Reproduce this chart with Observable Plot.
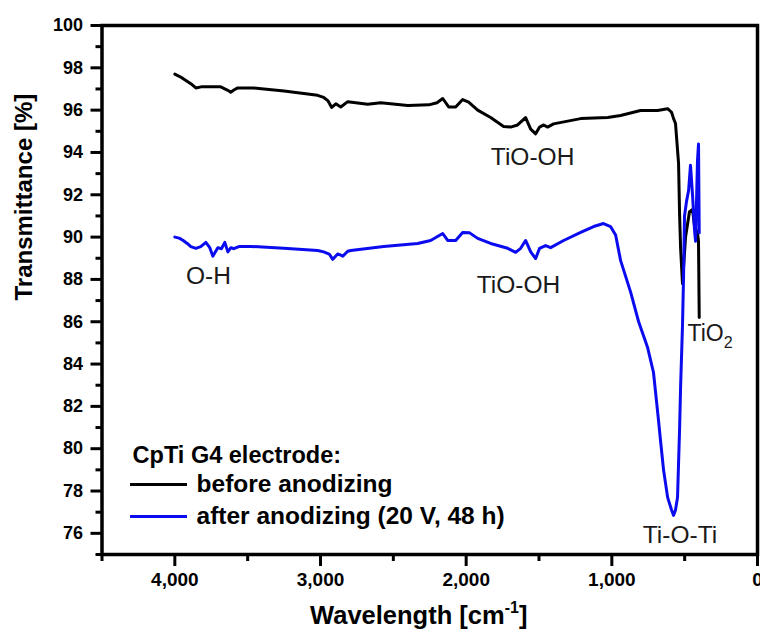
<!DOCTYPE html>
<html>
<head>
<meta charset="utf-8">
<script src="https://cdn.jsdelivr.net/npm/d3@7"></script>
<script src="https://cdn.jsdelivr.net/npm/@observablehq/plot@0.6"></script>
<style>
  html, body { margin: 0; padding: 0; background: #fff; }
  #chart { width: 760px; height: 637px; overflow: hidden; }
</style>
</head>
<body>
<div id="chart"></div>
<script>
// ---------------- data ----------------
const seriesNames = ["before anodizing", "after anodizing (20 V, 48 h)"];
const legendTitle = "CpTi G4 electrode:";

const wnBefore = [4000, 3970, 3945, 3890, 3856, 3820, 3775, 3685, 3640, 3616, 3595, 3568, 3460, 3250, 3020, 2978, 2950, 2923, 2895, 2861, 2813, 2676, 2587, 2401, 2257, 2200, 2161, 2120, 2072, 2024, 1983, 1921, 1832, 1743, 1695, 1647, 1592, 1557, 1523, 1496, 1468, 1441, 1400, 1214, 1029, 940, 803, 686, 617, 590, 576, 563, 542, 535, 528, 515, 494, 467, 446, 432, 412, 405, 400];
const tBefore = [97.7, 97.6, 97.5, 97.25, 97.05, 97.1, 97.1, 97.1, 96.95, 96.85, 96.95, 97.05, 97.05, 96.9, 96.7, 96.6, 96.45, 96.13, 96.3, 96.15, 96.4, 96.28, 96.35, 96.22, 96.25, 96.35, 96.55, 96.15, 96.15, 96.5, 96.38, 96.0, 95.65, 95.23, 95.2, 95.3, 95.65, 95.1, 94.88, 95.2, 95.3, 95.2, 95.35, 95.6, 95.65, 95.75, 95.98, 95.98, 96.07, 95.9, 95.6, 95.37, 93.5, 91.1, 89.5, 87.8, 90.0, 91.2, 91.3, 90.5, 90.2, 89.8, 86.2];

const wnAfter = [4000, 3970, 3945, 3915, 3890, 3856, 3822, 3787, 3760, 3739, 3705, 3680, 3657, 3636, 3615, 3595, 3560, 3479, 3252, 3019, 2978, 2940, 2916, 2882, 2860, 2847, 2813, 2792, 2566, 2333, 2244, 2161, 2127, 2072, 2024, 1976, 1921, 1832, 1715, 1660, 1626, 1592, 1557, 1523, 1496, 1455, 1420, 1331, 1214, 1125, 1057, 1009, 974, 940, 871, 816, 755, 714, 679, 666, 645, 617, 590, 576, 563, 549, 535, 528, 515, 508, 501, 487, 473, 460, 446, 432, 425, 412, 405, 400];
const tAfter = [90.0, 89.95, 89.85, 89.7, 89.55, 89.47, 89.55, 89.75, 89.5, 89.1, 89.5, 89.45, 89.75, 89.3, 89.5, 89.45, 89.55, 89.56, 89.47, 89.37, 89.3, 89.2, 88.95, 89.2, 89.15, 89.1, 89.33, 89.37, 89.56, 89.7, 89.84, 90.17, 89.84, 89.84, 90.22, 90.2, 89.94, 89.7, 89.47, 89.28, 89.47, 89.84, 89.3, 88.99, 89.47, 89.6, 89.5, 89.84, 90.22, 90.5, 90.64, 90.5, 90.1, 88.9, 87.4, 86.0, 84.8, 83.6, 81.3, 80.4, 79.0, 77.7, 77.1, 76.85, 77.1, 77.7, 80.9, 82.9, 85.8, 88.0, 91.0, 91.7, 92.2, 93.4, 92.0, 90.3, 89.8, 93.6, 94.4, 90.2];

const annotationLabels = ["TiO-OH", "TiO-OH", "O-H", "Ti-O-Ti"];
const annotationWn = [1544, 1641, 3769, 532];
const annotationT = [93.76, 87.71, 88.14, 75.9];
const subLabel = "TiO2";
const subLabelWn = 481;
const subLabelT = 85.44;

const xTicks = [4000, 3000, 2000, 1000, 0];
const xMinorTicks = [4500, 3500, 2500, 1500, 500];
const yTicks = [76, 78, 80, 82, 84, 86, 88, 90, 92, 94, 96, 98, 100];
const yMinorTicks = [75, 77, 79, 81, 83, 85, 87, 89, 91, 93, 95, 97, 99];

const xTitle = "Wavelength [cm-1]";
const yTitle = "Transmittance [%]";

// ---------------- tables built from the arrays ----------------
const before = wnBefore.map((w, i) => ({wn: w, t: tBefore[i]}));
const after = wnAfter.map((w, i) => ({wn: w, t: tAfter[i]}));
const annotations = annotationLabels.map((l, i) => ({label: l, wn: annotationWn[i], t: annotationT[i]}));

// legend placement (data coordinates)
const legX0 = 4304, legX1 = 3913, legTextX = 3851;
const blue = "#0b0bef";
const legend = [
  {name: seriesNames[0], t: 78.31, color: "#000000"},
  {name: seriesNames[1], t: 76.80, color: blue}
];

const chart = Plot.plot({
  width: 760,
  height: 637,
  marginLeft: 101.5,
  marginRight: 3,
  marginTop: 25,
  marginBottom: 83,
  style: {fontFamily: '"Liberation Sans", Arial, sans-serif', background: "#fff", color: "#000", overflow: "visible"},
  x: {domain: [4500, 0]},
  y: {domain: [75, 100]},
  marks: [
    Plot.line(before, {x: "wn", y: "t", stroke: "#000", strokeWidth: 3}),
    Plot.line(after, {x: "wn", y: "t", stroke: blue, strokeWidth: 3}),
    Plot.frame({stroke: "#000", strokeWidth: 3.5}),
    Plot.axisY(yMinorTicks, {anchor: "left", tickSize: 6, strokeWidth: 3, tickFormat: () => "", label: null}),
    Plot.axisY(yTicks, {anchor: "left", tickSize: 11, tickPadding: 8, strokeWidth: 3, fontSize: 18, fontWeight: "bold", fill: "#000", label: null}),
    Plot.axisX(xMinorTicks, {anchor: "bottom", tickSize: 7, strokeWidth: 3, tickFormat: () => "", label: null}),
    Plot.axisX(xTicks, {anchor: "bottom", tickSize: 12, tickPadding: 6, strokeWidth: 3, tickFormat: d3.format(","), fontSize: 19, fontWeight: "bold", fill: "#000", label: null}),
    Plot.text(annotations, {x: "wn", y: "t", text: "label", fontSize: 24.5, fill: "#1a1a1a", textAnchor: "middle"}),
    Plot.text([subLabel], {x: subLabelWn, y: subLabelT, text: d => d, fontSize: 23, fill: "#1a1a1a", textAnchor: "start"}),
    Plot.text([legendTitle], {x: 4290, y: 79.68, text: d => d, textAnchor: "start", fontSize: 23.5, fontWeight: "bold", fill: "#000"}),
    Plot.ruleY([legend[0]], {y: "t", x1: legX0, x2: legX1, stroke: legend[0].color, strokeWidth: 3}),
    Plot.ruleY([legend[1]], {y: "t", x1: legX0, x2: legX1, stroke: legend[1].color, strokeWidth: 3}),
    Plot.text(legend, {x: legTextX, y: "t", text: "name", textAnchor: "start", fontSize: 24.5, fontWeight: "bold", fill: "#000"}),
    Plot.text([xTitle], {frameAnchor: "bottom", dy: 69, dx: -11, text: d => d, fontSize: 25.5, fontWeight: "bold", fill: "#000"}),
    Plot.text([yTitle], {frameAnchor: "left", rotate: -90, dx: -77.5, dy: 10.5, text: d => d, fontSize: 24, fontWeight: "bold", fill: "#000"})
  ]
});

// superscript / subscript
d3.select(chart).selectAll("text").each(function () {
  const t = this.textContent;
  const sel = d3.select(this);
  if (t === xTitle) {
    sel.text(null);
    sel.append("tspan").text("Wavelength [cm");
    sel.append("tspan").attr("dy", -11).attr("font-size", "16px").text("-1");
    sel.append("tspan").attr("dy", 11).text("]");
  } else if (t === subLabel) {
    sel.text(null);
    sel.append("tspan").text("TiO");
    sel.append("tspan").attr("dy", 7).attr("font-size", "16px").text("2");
  }
});

document.getElementById("chart").appendChild(chart);
</script>
</body>
</html>
